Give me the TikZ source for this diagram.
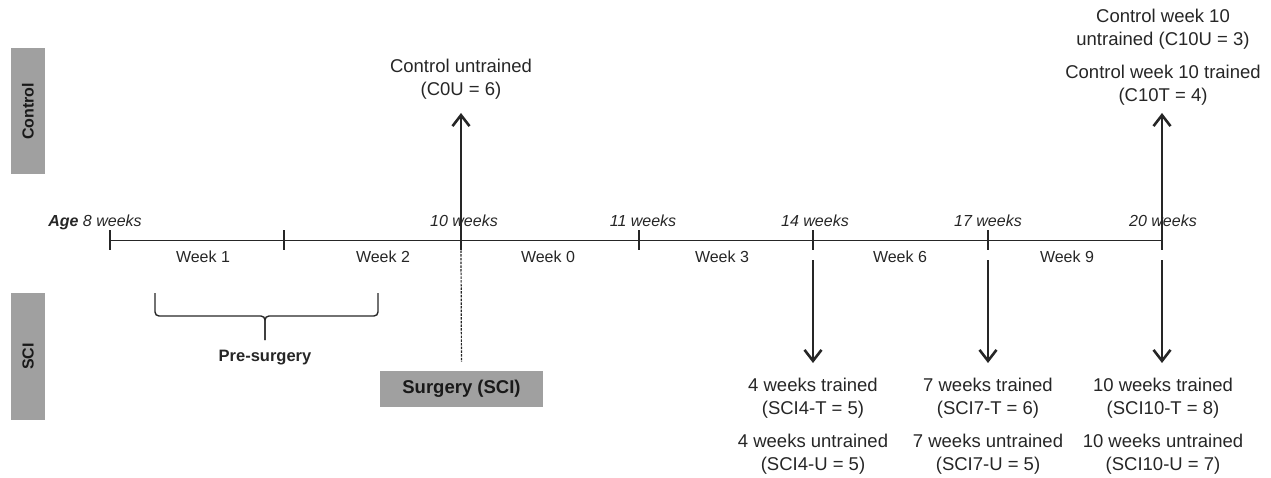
\documentclass[tikz,border=0pt]{standalone}
\usepackage{fontspec}
\setmainfont{Liberation Sans}
\usetikzlibrary{arrows.meta}
\definecolor{boxgray}{HTML}{A0A0A0}
\tikzset{
  big/.style={font=\fontsize{18.5}{23}\selectfont, align=center, inner sep=0pt, text=black!85},
  small/.style={font=\fontsize{16}{19}\selectfont, inner sep=0pt, text=black!85},
  agelbl/.style={small, font=\fontsize{16}{19}\selectfont\itshape, anchor=base},
  weeklbl/.style={small, anchor=base},
  sidebox/.style={fill=boxgray, draw=none, minimum width=34pt, minimum height=126pt, inner sep=0pt},
  sidetxt/.style={font=\fontsize{16}{19}\selectfont\bfseries, rotate=90, text=black!90},
  tick/.style={line width=1.7pt, draw=black!85},
  axis/.style={line width=1.9pt, draw=black!85},
  arr/.style={line width=1.7pt, draw=black!85, -{Straight Barb[length=11pt,width=17pt,line width=2.6pt]}},
  dashline/.style={line width=1.2pt, draw=black!85, dash pattern=on 2.5pt off 1.2pt},
  bracepath/.style={line width=1.4pt, draw=black!85, rounded corners=4pt},
}
\begin{document}
\begin{tikzpicture}[x=1pt,y=-1pt]
\useasboundingbox (0,0) rectangle (1271,478);
% side boxes
\node[sidebox] (ctrlbox) at (28,111.5) {};
\node[sidetxt] (ctrltxt) at (ctrlbox) {Control};
\node[sidebox, minimum height=127pt] (scibox) at (28,356.5) {};
\node[sidetxt] (scitxt) at (scibox) {SCI};
% timeline coordinates
\coordinate (t1) at (110,240.5);
\coordinate (t2) at (284,240.5);
\coordinate (t3) at (461,240.5);
\coordinate (t4) at (639,240.5);
\coordinate (t5) at (813,240.5);
\coordinate (t6) at (988,240.5);
\coordinate (t7) at (1162,240.5);
\draw[axis] (t1) -- (t7);
\foreach \t in {t1,t2,t3,t4,t5,t6,t7}{
  \draw[tick] ([yshift=10pt]\t) -- ([yshift=-10pt]\t);
}
% age labels
\node[agelbl] (a8) at (95,227) {\textbf{Age} 8 weeks};
\node[agelbl] (a10) at (464,227) {10 weeks};
\node[agelbl] (a11) at (643,227) {11 weeks};
\node[agelbl] (a14) at (815,227) {14 weeks};
\node[agelbl] (a17) at (988,227) {17 weeks};
\node[agelbl] (a20) at (1163,227) {20 weeks};
% week labels
\node[weeklbl] (w1) at (203,263) {Week 1};
\node[weeklbl] (w2) at (383,263) {Week 2};
\node[weeklbl] (w0) at (548,263) {Week 0};
\node[weeklbl] (w3) at (722,263) {Week 3};
\node[weeklbl] (w6) at (900,263) {Week 6};
\node[weeklbl] (w9) at (1067,263) {Week 9};
% brace
\draw[bracepath] (155,293) -- (155,316) -- (265,316) -- (265,340);
\draw[bracepath] (378,293) -- (378,316) -- (265,316) -- (265,340);
\node[font=\fontsize{16.5}{19}\selectfont\bfseries, inner sep=0pt, text=black!85] (pre) at (265,358) {Pre-surgery};
% surgery box
\node[fill=boxgray, minimum width=163pt, minimum height=36pt, inner sep=0pt,
      font=\fontsize{18.5}{22}\selectfont\bfseries, text=black!90] (surg) at (461.5,389) {Surgery (SCI)};
\draw[dashline] ([yshift=-10pt]t3) -- (surg.north) [shorten >=9pt];
% control groups
\node[big] (c0u) at (461,79) {Control untrained\\(C0U = 6)};
\node[big] (c10u) at (1163,29) {Control week 10\\untrained (C10U = 3)};
\node[big] (c10t) at (1163,85) {Control week 10 trained\\(C10T = 4)};
\draw[arr] ([yshift=10pt]t3) -- (t3 |- 0,113);
\draw[arr] ([yshift=10pt]t7) -- (t7 |- 0,113);
% SCI groups
\node[big] (s4t) at (813,398.5) {4 weeks trained\\(SCI4-T = 5)};
\node[big] (s4u) at (813,454) {4 weeks untrained\\(SCI4-U = 5)};
\node[big] (s7t) at (988,398.5) {7 weeks trained\\(SCI7-T = 6)};
\node[big] (s7u) at (988,454) {7 weeks untrained\\(SCI7-U = 5)};
\node[big] (s10t) at (1163,398.5) {10 weeks trained\\(SCI10-T = 8)};
\node[big] (s10u) at (1163,454) {10 weeks untrained\\(SCI10-U = 7)};
\draw[arr] ([yshift=-20pt]t5) -- (t5 |- 0,363);
\draw[arr] ([yshift=-20pt]t6) -- (t6 |- 0,363);
\draw[arr] ([yshift=-20pt]t7) -- (t7 |- 0,363);
\end{tikzpicture}
\end{document}
